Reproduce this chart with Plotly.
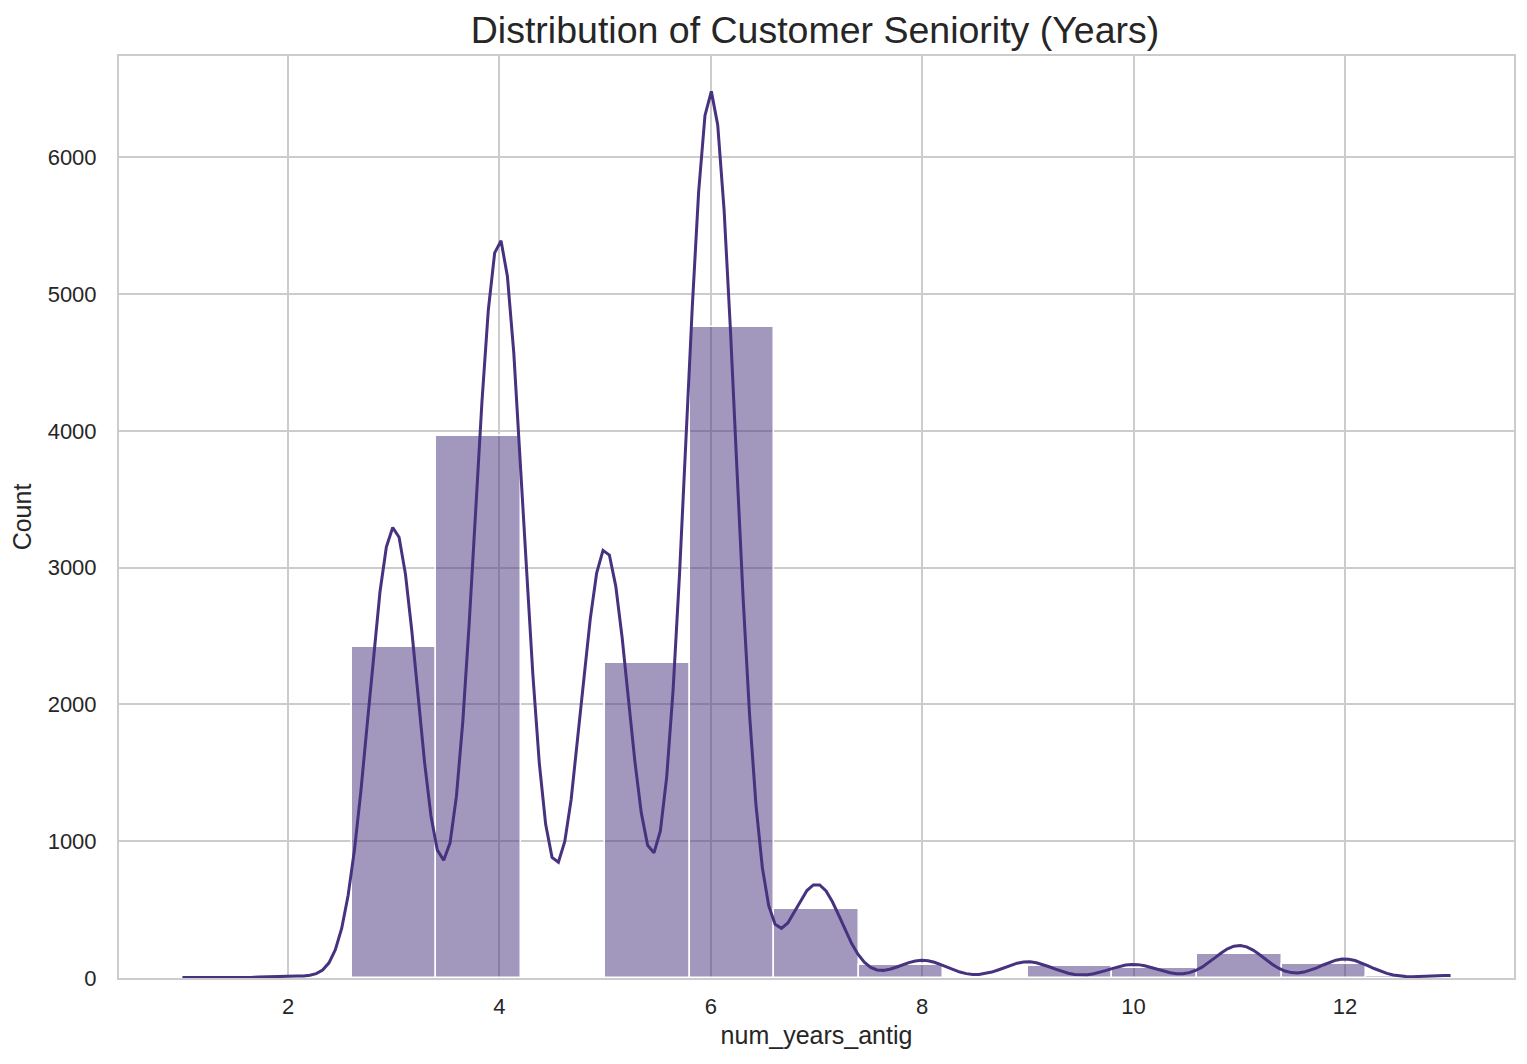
import numpy as np
import plotly.graph_objects as go

# customer seniority: count of customers per year of antiquity
years = [1, 2, 3, 4, 5, 6, 7, 8, 9, 10, 11, 12, 13]
counts = [3, 10, 2420, 3965, 2303, 4760, 503, 95, 87, 73, 175, 102, 14]

n_bins = 15
line_color = "#46327e"
bar_color = "rgba(70,50,126,0.5)"
text_color = "#262626"
grid_color = "#cccccc"

yrs = np.array(years, dtype=float)
cnt = np.array(counts, dtype=float)

# histogram as seaborn builds it (15 equal bins between min and max)
hist, edges = np.histogram(yrs, bins=n_bins, range=(yrs.min(), yrs.max()), weights=cnt)
centers = (edges[:-1] + edges[1:]) / 2
bin_w = edges[1] - edges[0]

# gaussian kde (scott's rule), scaled to counts, on a 200 point grid clipped to the data
n = cnt.sum()
mean = (yrs * cnt).sum() / n
std = np.sqrt(((yrs - mean) ** 2 * cnt).sum() / (n - 1))
bw = std * n ** (-1 / 5)
grid = np.linspace(yrs.min(), yrs.max(), 200)
dens = (cnt[None, :] * np.exp(-0.5 * ((grid[:, None] - yrs[None, :]) / bw) ** 2)).sum(axis=1)
dens = dens / (n * bw * np.sqrt(2 * np.pi))
kde = dens * n * bin_w

fig = go.Figure()
fig.add_trace(go.Bar(x=centers, y=hist, width=bin_w,
                     marker=dict(color=bar_color, line=dict(color="white", width=1.5)),
                     showlegend=False))
fig.add_trace(go.Scatter(x=grid, y=kde, mode="lines",
                         line=dict(color=line_color, width=3), showlegend=False))

fig.update_layout(
    width=1527, height=1064,
    margin=dict(l=111, r=21, t=48, b=94),
    paper_bgcolor="white", plot_bgcolor="white",
    font=dict(family="Liberation Sans, Arial, sans-serif", color=text_color, size=22),
    title=dict(text="Distribution of Customer Seniority (Years)", x=0.5285, xanchor="center",
               y=0.979, yanchor="middle", font=dict(size=37.5, color=text_color)),
    bargap=0,
)
fig.update_xaxes(range=[0.4, 13.6], tickvals=[2, 4, 6, 8, 10, 12], automargin=False,
                 showgrid=True, gridcolor=grid_color, gridwidth=1.5,
                 showline=True, linecolor=grid_color, linewidth=2, mirror=True,
                 zeroline=False, ticks="", ticklabelstandoff=8,
                 tickfont=dict(size=22),
                 title=dict(text="num_years_antig", font=dict(size=25), standoff=8))
fig.update_yaxes(range=[0, 6740], tickvals=[0, 1000, 2000, 3000, 4000, 5000, 6000], automargin=False,
                 showgrid=True, gridcolor=grid_color, gridwidth=1.5,
                 showline=True, linecolor=grid_color, linewidth=2, mirror=True,
                 zeroline=False, ticks="", ticklabelstandoff=16,
                 tickfont=dict(size=22),
                 title=dict(text="Count", font=dict(size=25), standoff=14))

fig.write_html("out.html")
